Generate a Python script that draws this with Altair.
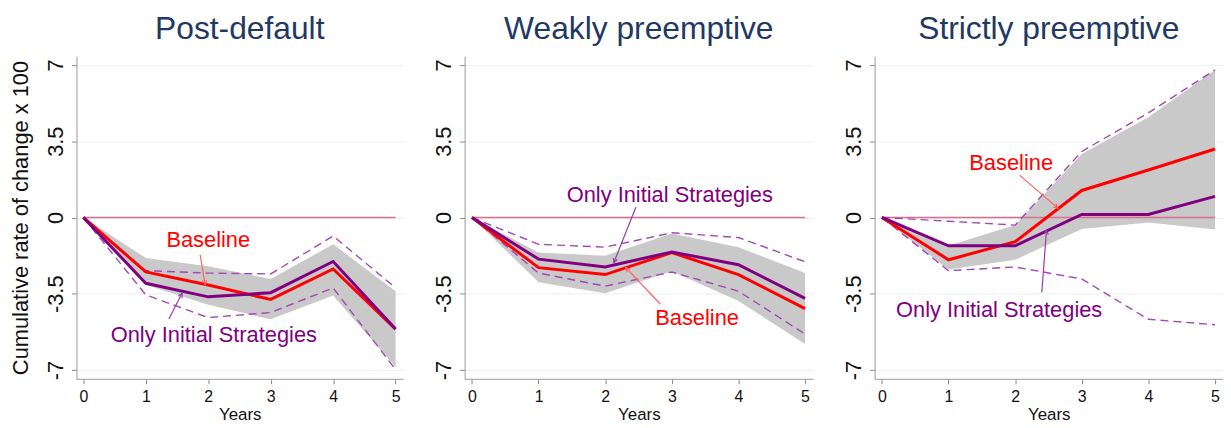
import math
import altair as alt
import pandas as pd

years = [0, 1, 2, 3, 4, 5]
titles = ["Post-default", "Weakly preemptive", "Strictly preemptive"]

# Panel 1: Post-default
pd_base = [0, -2.50, -3.10, -3.76, -2.36, -5.12]
pd_only = [0, -3.02, -3.64, -3.45, -2.02, -5.12]
pd_band_hi = [0, -1.86, -2.24, -2.82, -1.23, -3.38]
pd_band_lo = [0, -3.08, -4.00, -4.67, -3.58, -6.86]
pd_dash_hi = [0, -2.44, -2.55, -2.59, -0.85, -3.23]
pd_dash_lo = [0, -3.55, -4.59, -4.36, -3.23, -6.98]

# Panel 2: Weakly preemptive
wp_base = [0, -2.30, -2.62, -1.61, -2.62, -4.18]
wp_only = [0, -1.91, -2.27, -1.58, -2.17, -3.71]
wp_band_hi = [0, -1.61, -1.76, -0.73, -1.36, -2.55]
wp_band_lo = [0, -2.97, -3.48, -2.47, -3.83, -5.80]
wp_dash_hi = [0, -1.23, -1.36, -0.70, -0.92, -2.03]
wp_dash_lo = [0, -2.55, -3.15, -2.50, -3.38, -5.35]

# Panel 3: Strictly preemptive
sp_base = [0, -1.94, -1.11, 1.24, 2.18, 3.14]
sp_only = [0, -1.30, -1.30, 0.14, 0.14, 0.97]
sp_band_hi = [0, -1.30, -0.35, 2.91, 4.60, 6.77]
sp_band_lo = [0, -2.39, -1.94, -0.53, -0.23, -0.55]
sp_dash_hi = [0, -0.17, -0.35, 3.03, 4.80, 6.77]
sp_dash_lo = [0, -2.44, -2.27, -2.82, -4.67, -4.92]

# annotations: (label, text x, text y, arrow start x, y, arrow end x, y)
pd_notes = [("Baseline", 2.00, -1.03, 1.87, -1.71, 1.95, -3.07),
            ("Only Initial Strategies", 2.09, -5.40, 1.37, -4.66, 1.58, -3.48)]
wp_notes = [("Only Initial Strategies", 2.97, 1.01, 2.46, 0.47, 2.13, -2.07),
            ("Baseline", 3.38, -4.62, 2.83, -3.98, 2.31, -2.30)]
sp_notes = [("Baseline", 1.94, 2.52, 2.07, 1.93, 2.64, 0.43),
            ("Only Initial Strategies", 1.76, -4.25, 2.40, -3.44, 2.47, -0.58)]

RED = "#ff0000"
PURPLE = "#800080"
DASH = "#a347b5"
BAND = "#c9c9c9"
ZERO = "#d9708f"
FONT = "Liberation Sans"

XDOM = [-0.11, 5.12]
YDOM = [-7.4, 7.4]
H = 325

panels = [
    (pd_base, pd_only, pd_band_hi, pd_band_lo, pd_dash_hi, pd_dash_lo, pd_notes),
    (wp_base, wp_only, wp_band_hi, wp_band_lo, wp_dash_hi, wp_dash_lo, wp_notes),
    (sp_base, sp_only, sp_band_hi, sp_band_lo, sp_dash_hi, sp_dash_lo, sp_notes),
]


def make_panel(i, width):
    base, only, bhi, blo, dhi, dlo, notes = panels[i]
    df = pd.DataFrame({"year": years, "base": base, "only": only,
                       "bhi": bhi, "blo": blo, "dhi": dhi, "dlo": dlo})
    xs = alt.Scale(domain=XDOM, nice=False, zero=False)
    ys = alt.Scale(domain=YDOM, nice=False, zero=False)
    x_axis = alt.Axis(values=years, format="d", title="Years", labelFontSize=16,
                      titleFontSize=17, labelFont=FONT, titleFont=FONT, grid=False,
                      tickSize=5, tickColor="#888888", domainColor="#999999",
                      labelColor="#111111", titleColor="#111111", titlePadding=2,
                      labelPadding=5, titleFontWeight="normal")
    y_axis = alt.Axis(values=[-7, -3.5, 0, 3.5, 7], labelExpr="datum.value",
                      title="Cumulative rate of change x 100" if i == 0 else None,
                      labelAngle=-90, labelAlign="center", labelBaseline="bottom",
                      labelFontSize=22, titleFontSize=22, labelFont=FONT, titleFont=FONT,
                      grid=True, gridColor="#e8f1f1", tickSize=5, tickColor="#888888",
                      domainColor="#999999", labelColor="#111111", titleColor="#111111",
                      labelPadding=4, titlePadding=12, titleFontWeight="normal")
    X = alt.X("year:Q", scale=xs, axis=x_axis)
    band = alt.Chart(df).mark_area(color=BAND, opacity=1).encode(
        x=X, y=alt.Y("bhi:Q", scale=ys, axis=y_axis), y2="blo:Q")
    zdf = pd.DataFrame({"x": [years[0]], "x2": [years[-1]], "y": [0]})
    zero = alt.Chart(zdf).mark_rule(color=ZERO, strokeWidth=1.5).encode(
        x=alt.X("x:Q", scale=xs), x2="x2:Q", y=alt.Y("y:Q", scale=ys))
    dhi_l = alt.Chart(df).mark_line(color=DASH, strokeWidth=1.4, strokeDash=[8, 5]).encode(
        x=alt.X("year:Q", scale=xs), y=alt.Y("dhi:Q", scale=ys))
    dlo_l = alt.Chart(df).mark_line(color=DASH, strokeWidth=1.4, strokeDash=[8, 5]).encode(
        x=alt.X("year:Q", scale=xs), y=alt.Y("dlo:Q", scale=ys))
    red = alt.Chart(df).mark_line(color=RED, strokeWidth=3).encode(
        x=alt.X("year:Q", scale=xs), y=alt.Y("base:Q", scale=ys))
    pur = alt.Chart(df).mark_line(color=PURPLE, strokeWidth=3).encode(
        x=alt.X("year:Q", scale=xs), y=alt.Y("only:Q", scale=ys))

    ux = width / (XDOM[1] - XDOM[0])
    uy = H / (YDOM[1] - YDOM[0])
    rows = []
    for lab, tx, ty, ax, ay, bx, by in notes:
        col = RED if lab == "Baseline" else PURPLE
        acol = "#ff6060" if lab == "Baseline" else "#9a3aa8"
        dxs = (bx - ax) * ux
        dys = -(by - ay) * uy
        ang = math.degrees(math.atan2(dxs, -dys)) % 360
        rows.append({"lab": lab, "tx": tx, "ty": ty, "ax": ax, "ay": ay,
                     "bx": bx, "by": by, "col": col, "acol": acol, "ang": ang})
    ndf = pd.DataFrame(rows)
    txt = alt.Chart(ndf).mark_text(fontSize=22, font=FONT, align="center",
                                    baseline="middle").encode(
        x=alt.X("tx:Q", scale=xs), y=alt.Y("ty:Q", scale=ys), text="lab:N",
        color=alt.Color("col:N", scale=None))
    arr = alt.Chart(ndf).mark_rule(strokeWidth=1.2).encode(
        x=alt.X("ax:Q", scale=xs), y=alt.Y("ay:Q", scale=ys), x2="bx:Q", y2="by:Q",
        color=alt.Color("acol:N", scale=None))
    head = alt.Chart(ndf).mark_point(shape="M -0.5 1 L 0 0 L 0.5 1", filled=False,
                                     size=70, strokeWidth=1.2, opacity=1).encode(
        x=alt.X("bx:Q", scale=xs), y=alt.Y("by:Q", scale=ys),
        angle=alt.Angle("ang:Q", scale=None),
        color=alt.Color("acol:N", scale=None))

    return alt.layer(band, zero, dhi_l, dlo_l, red, pur, arr, head, txt).properties(
        width=width, height=H,
        title=alt.TitleParams(titles[i], fontSize=32, font=FONT, color="#1f3864",
                              fontWeight="normal", anchor="middle", frame="group",
                              offset=10))


chart = alt.hconcat(make_panel(0, 329), make_panel(1, 351), make_panel(2, 351),
                    spacing=30).properties(
    padding={"left": 2, "top": 4, "right": 0, "bottom": 0}).configure_view(stroke=None)

chart.save("out.html", embed_options={"renderer": "svg", "actions": False})
